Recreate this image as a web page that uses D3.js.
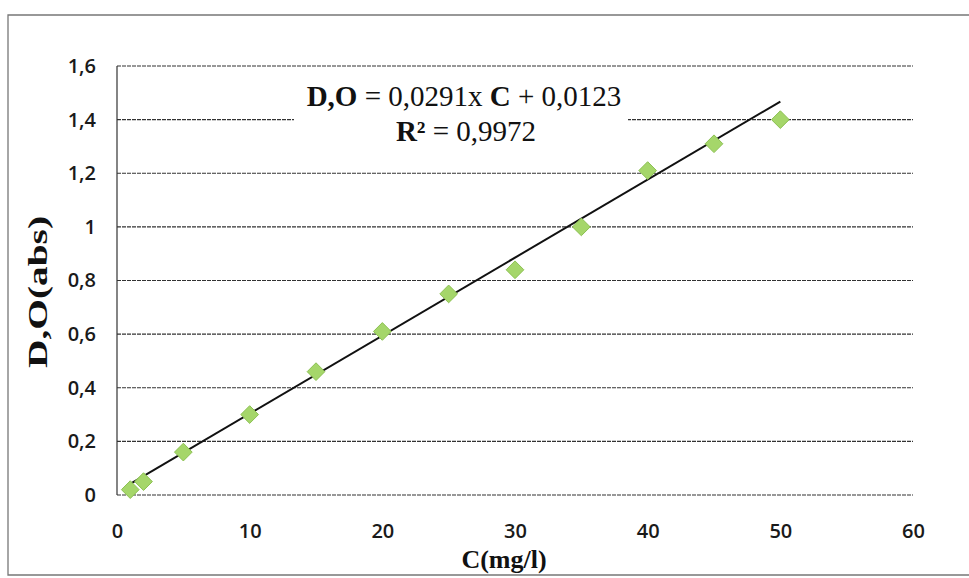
<!DOCTYPE html>
<html>
<head>
<meta charset="utf-8">
<script src="https://cdn.jsdelivr.net/npm/d3@7"></script>
<style>
  html, body { margin: 0; padding: 0; background: #fff; }
  svg { display: block; }
</style>
</head>
<body>
<svg id="chart" width="969" height="578"></svg>
<script>
// Calibration points: concentration (mg/l) and measured optical density
const concentration = [1, 2, 5, 10, 15, 20, 25, 30, 35, 40, 45, 50];
const opticalDensity = [0.02, 0.05, 0.16, 0.30, 0.46, 0.61, 0.75, 0.84, 1.00, 1.21, 1.31, 1.40];

// Linear fit reported on the chart
const fitSlope = 0.0291;
const fitIntercept = 0.0123;
const fitR2 = 0.9972;

const xTicks = [0, 10, 20, 30, 40, 50, 60];
const yTicks = [0, 0.2, 0.4, 0.6, 0.8, 1.0, 1.2, 1.4, 1.6];

const fmt = v => String(+v.toFixed(4)).replace(".", ",");

const svg = d3.select("#chart");
const W = 969, H = 578;
const plot = { left: 117, right: 913, top: 66, bottom: 495 };

const x = d3.scaleLinear().domain([0, 60]).range([plot.left, plot.right]);
const y = d3.scaleLinear().domain([0, 1.6]).range([plot.bottom, plot.top]);

svg.append("rect").attr("width", W).attr("height", H).attr("fill", "#fff");

// Outer chart frame (open on the right)
svg.append("path")
  .attr("d", `M${W},15 H8 V575 H${W}`)
  .attr("fill", "none").attr("stroke", "#777").attr("stroke-width", 1.3);

// Horizontal gridlines
svg.append("g")
  .selectAll("line")
  .data(yTicks)
  .join("line")
  .attr("x1", plot.left).attr("x2", plot.right)
  .attr("y1", d => y(d)).attr("y2", d => y(d))
  .attr("stroke", "#333").attr("stroke-width", 1.2)
  .attr("stroke-dasharray", "4 1");

// Vertical axis line
svg.append("line")
  .attr("x1", plot.left).attr("x2", plot.left)
  .attr("y1", plot.top).attr("y2", plot.bottom)
  .attr("stroke", "#333").attr("stroke-width", 1.2);

// Tick labels via d3 axes (axis lines hidden, text only)
const yAxis = svg.append("g")
  .attr("transform", `translate(${plot.left - 21},0)`)
  .call(d3.axisLeft(y).tickValues(yTicks).tickFormat(fmt).tickSize(0).tickPadding(0));
const xAxis = svg.append("g")
  .attr("transform", `translate(0,${plot.bottom + 29})`)
  .call(d3.axisBottom(x).tickValues(xTicks).tickFormat(fmt).tickSize(0).tickPadding(0));
[yAxis, xAxis].forEach(g => {
  g.select(".domain").remove();
  g.selectAll("text")
    .attr("font-family", "'Open Sans', 'Liberation Sans', sans-serif")
    .attr("font-size", 20)
    .attr("font-weight", 600)
    .attr("fill", "#1a1a1a");
});
xAxis.selectAll("text").attr("dy", "0.71em");

// Trendline across the measured range
const xMin = d3.min(concentration), xMax = d3.max(concentration);
svg.append("line")
  .attr("x1", x(xMin)).attr("y1", y(fitSlope * xMin + fitIntercept))
  .attr("x2", x(xMax)).attr("y2", y(fitSlope * xMax + fitIntercept))
  .attr("stroke", "#111").attr("stroke-width", 2);

// Diamond markers
const points = concentration.map((c, i) => ({ c, od: opticalDensity[i] }));
svg.append("g")
  .selectAll("path")
  .data(points)
  .join("path")
  .attr("transform", d => `translate(${x(d.c)},${y(d.od)})`)
  .attr("d", d3.symbol(d3.symbolDiamond2, 200)())
  .attr("fill", "#a5d66a")
  .attr("stroke", "#8cc152")
  .attr("stroke-width", 1);

// Equation box
const eq = svg.append("g");
eq.append("rect")
  .attr("x", 294).attr("y", 76).attr("width", 334).attr("height", 74)
  .attr("fill", "#fff");
const serif = "'Liberation Serif', 'DejaVu Serif', serif";
const line1 = eq.append("text")
  .attr("x", 464).attr("y", 106)
  .attr("text-anchor", "middle")
  .attr("font-family", serif).attr("font-size", 29).attr("fill", "#111");
line1.append("tspan").attr("font-weight", "bold").text("D,O");
line1.append("tspan").text(` = ${fmt(fitSlope)}x `);
line1.append("tspan").attr("font-weight", "bold").text("C");
line1.append("tspan").text(` + ${fmt(fitIntercept)}`);
const line2 = eq.append("text")
  .attr("x", 466).attr("y", 141)
  .attr("text-anchor", "middle")
  .attr("font-family", serif).attr("font-size", 29).attr("fill", "#111");
line2.append("tspan").attr("font-weight", "bold").text("R²");
line2.append("tspan").text(` = ${fmt(fitR2)}`);

// Axis titles
svg.append("text")
  .attr("transform", "translate(47,292) rotate(-90)")
  .attr("text-anchor", "middle")
  .attr("font-family", serif).attr("font-weight", "bold")
  .attr("font-size", 27).attr("fill", "#111")
  .attr("textLength", 152).attr("lengthAdjust", "spacingAndGlyphs")
  .text("D,O(abs)");
svg.append("text")
  .attr("x", 504).attr("y", 568)
  .attr("text-anchor", "middle")
  .attr("font-family", serif).attr("font-weight", "bold")
  .attr("font-size", 26).attr("fill", "#111")
  .text("C(mg/l)");
</script>
</body>
</html>
